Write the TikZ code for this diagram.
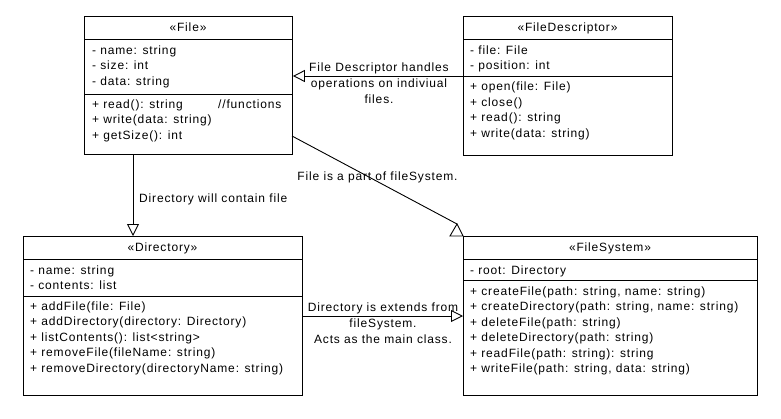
\documentclass[tikz,border=0pt]{standalone}
\usepackage{fontspec}
\setmainfont{Liberation Sans}[LetterSpace=7]
\usetikzlibrary{arrows.meta}
\begin{document}
\begin{tikzpicture}[x=1pt,y={(0pt,-1pt)},
  umlbox/.style={draw=black, line width=0.9pt, inner sep=0pt, anchor=north west},
  sepline/.style={draw=black, line width=0.9pt},
  member/.style={anchor=west, inner sep=0pt, text height=8.6pt, text depth=2.4pt, font=\fontsize{12}{15.5}\selectfont},
  hdr/.style={inner sep=0pt, text height=8.6pt, text depth=2.4pt, font=\fontsize{12}{15.5}\selectfont},
  lbl/.style={inner sep=0pt, align=center, font=\fontsize{12}{16}\selectfont},
  conn/.style={draw=black, line width=0.9pt, -{Triangle[open, length=12pt, width=12pt, line width=0.9pt]}}
]
\useasboundingbox (0,0) rectangle (781,418);

% ---- File
\node[umlbox, minimum width=208pt, minimum height=138pt] (file) at (84,16) {};
\draw[sepline] (84,39) -- (292,39);
\draw[sepline] (84,94) -- (292,94);
\node[hdr] (fileh) at (188,28) {«File»};
\node[member] (f1) at (92,51) {- name: string};
\node[member] (f2) at (92,66.5) {- size: int};
\node[member] (f3) at (92,82) {- data: string};
\node[member] (f4) at (92,105) {+ read(): string};
\node[member] (f4c) at (218,105) {//functions};
\node[member] (f5) at (92,120.5) {+ write(data: string)};
\node[member] (f6) at (92,136) {+ getSize(): int};

% ---- FileDescriptor
\node[umlbox, minimum width=209pt, minimum height=139pt] (fd) at (463,16) {};
\draw[sepline] (463,39) -- (672,39);
\coordinate (fdsep) at (463,76);
\draw[sepline] (fdsep) -- (672,76);
\node[hdr] (fdh) at (567.5,28) {«FileDescriptor»};
\node[member] (d1) at (470,51) {- file: File};
\node[member] (d2) at (470,66.5) {- position: int};
\node[member] (d3) at (470,87.5) {+ open(file: File)};
\node[member] (d4) at (470,103) {+ close()};
\node[member] (d5) at (470,118.5) {+ read(): string};
\node[member] (d6) at (470,134) {+ write(data: string)};

% ---- Directory
\node[umlbox, minimum width=279pt, minimum height=159pt] (dir) at (23,236) {};
\draw[sepline] (23,259) -- (302,259);
\draw[sepline] (23,296) -- (302,296);
\node[hdr] (dirh) at (162.5,248) {«Directory»};
\node[member] (r1) at (30,271) {- name: string};
\node[member] (r2) at (30,286.5) {- contents: list};
\node[member] (r3) at (30,307) {+ addFile(file: File)};
\node[member] (r4) at (30,322.5) {+ addDirectory(directory: Directory)};
\node[member] (r5) at (30,338) {+ listContents(): list<string>};
\node[member] (r6) at (30,353.5) {+ removeFile(fileName: string)};
\node[member] (r7) at (30,369) {+ removeDirectory(directoryName: string)};

% ---- FileSystem
\node[umlbox, minimum width=294pt, minimum height=159pt] (fs) at (463,236) {};
\draw[sepline] (463,259) -- (757,259);
\draw[sepline] (463,280) -- (757,280);
\node[hdr] (fsh) at (610,248) {«FileSystem»};
\node[member] (s1) at (470,271) {- root: Directory};
\node[member] (s2) at (470,292) {+ createFile(path: string, name: string)};
\node[member] (s3) at (470,307.5) {+ createDirectory(path: string, name: string)};
\node[member] (s4) at (470,323) {+ deleteFile(path: string)};
\node[member] (s5) at (470,338.5) {+ deleteDirectory(path: string)};
\node[member] (s6) at (470,354) {+ readFile(path: string): string};
\node[member] (s7) at (470,369.5) {+ writeFile(path: string, data: string)};

% ---- connectors
\draw[conn] (fdsep) -- (file.east |- fdsep);
\node[lbl] (l1) at (379,83) {File Descriptor handles\\operations on indiviual\\files.};

\coordinate (a1) at (133,154);
\draw[conn] (a1) -- (a1 |- dir.north);
\node[lbl, anchor=west] (l2) at (139,199) {Directory will contain file};

\coordinate (a2) at (292,136);
\coordinate (tipfs) at (457,224);
\draw[sepline] (a2) -- (tipfs);
\draw[sepline, line join=miter] (tipfs) -- (450,236) -- (463,236) -- cycle;
\node[lbl] (l3) at (377.5,177) {File is a part of fileSystem.};

\coordinate (a3) at (302,316);
\draw[conn] (a3) -- (a3 -| fs.west);
\node[lbl] (l4) at (383,323) {Directory is extends from\\fileSystem.\\Acts as the main class.};
\end{tikzpicture}
\end{document}
